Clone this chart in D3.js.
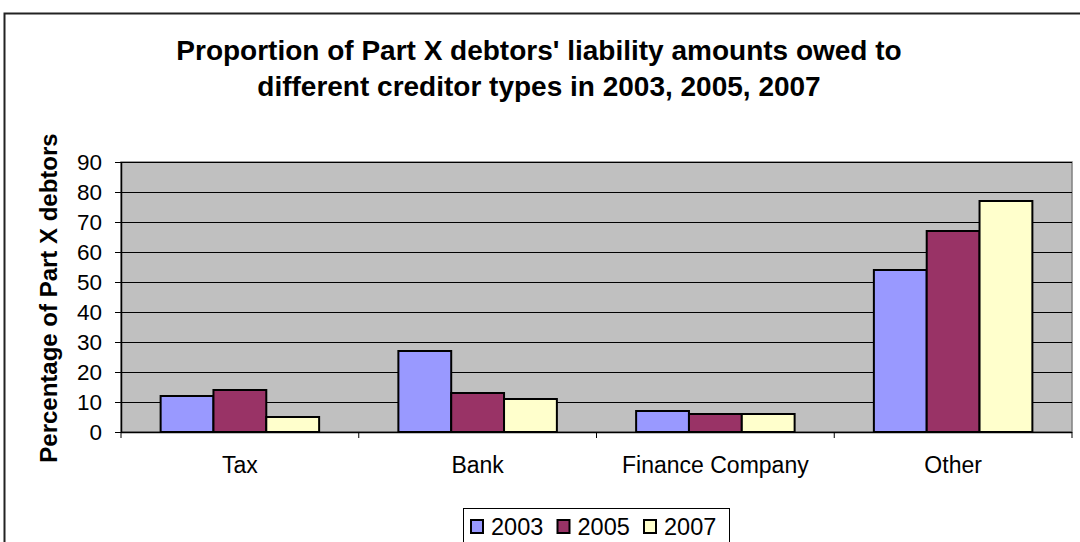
<!DOCTYPE html>
<html><head><meta charset="utf-8">
<script src="https://cdn.jsdelivr.net/npm/d3@7/dist/d3.min.js"></script>
<style>body{margin:0;background:#fff}svg{display:block}text{font-family:"Liberation Sans",Arial,sans-serif}</style>
</head><body><svg id="c" width="1080" height="542"></svg>
<script>
const categories = ["Tax", "Bank", "Finance Company", "Other"];
const years = ["2003", "2005", "2007"];
const v2003 = [12, 27, 7, 54];
const v2005 = [14, 13, 6, 67];
const v2007 = [5, 11, 6, 77];
const yTicks = [0, 10, 20, 30, 40, 50, 60, 70, 80, 90];
const colors = ["#9999FF", "#993366", "#FFFFCC"];
const titleLines = ["Proportion of Part X debtors' liability amounts owed to", "different creditor types in 2003, 2005, 2007"];
const yLabel = "Percentage of Part X debtors";

const series = [v2003, v2005, v2007];
const svg = d3.select("#c");
const L = 121, R = 1072, T = 162, B = 432;

svg.append("rect").attr("x", 4.5).attr("y", 13.5).attr("width", 1090).attr("height", 560)
  .attr("fill", "#fff").attr("stroke", "#222").attr("stroke-width", 2);

const x0 = d3.scaleBand().domain(categories).range([L, R]).padding(0);
const x1 = d3.scaleBand().domain(years).range([0, x0.bandwidth()]).paddingInner(0).paddingOuter(0.75);
const y = d3.scaleLinear().domain([0, 90]).range([B, T]);

svg.append("rect").attr("x", L).attr("y", T).attr("width", R - L).attr("height", B - T)
  .attr("fill", "#C0C0C0").attr("stroke", "#808080").attr("stroke-width", 1.5);

svg.append("g").selectAll("line").data(yTicks.filter(d => d > 0)).join("line")
  .attr("x1", L).attr("x2", R).attr("y1", d => Math.round(y(d)) + 0.5).attr("y2", d => Math.round(y(d)) + 0.5)
  .attr("stroke", "#000").attr("stroke-width", 1);

// bars
const g = svg.append("g");
categories.forEach((c, ci) => {
  years.forEach((yr, si) => {
    const val = series[si][ci];
    g.append("rect")
      .attr("x", x0(c) + x1(yr)).attr("y", y(val))
      .attr("width", x1.bandwidth()).attr("height", y(0) - y(val))
      .attr("fill", colors[si]).attr("stroke", "#000").attr("stroke-width", 2);
  });
});

// y axis
const yAxis = d3.axisLeft(y).tickValues(yTicks).tickSize(6).tickPadding(13).tickSizeOuter(0);
const ya = svg.append("g").attr("transform", `translate(${L},0)`).call(yAxis);
ya.select(".domain").attr("stroke", "#000").attr("stroke-width", 1.5);
ya.selectAll(".tick line").attr("stroke", "#000");
ya.selectAll("text").attr("font-size", 22.5).attr("fill", "#000").style("font-family", "Liberation Sans, Arial, sans-serif");

// x axis
const xa = svg.append("g").attr("transform", `translate(0,${B})`);
xa.append("line").attr("x1", L).attr("x2", R).attr("y1", 0.5).attr("y2", 0.5).attr("stroke", "#000").attr("stroke-width", 1.5);
const bounds = categories.map(c => x0(c)).concat([R]);
xa.selectAll(".ct").data(bounds).join("line").attr("class", "ct")
  .attr("x1", d => d).attr("x2", d => d).attr("y1", 0).attr("y2", 6).attr("stroke", "#000");
xa.selectAll(".cl").data(categories).join("text").attr("class", "cl")
  .attr("x", d => x0(d) + x0.bandwidth() / 2).attr("y", 41)
  .attr("text-anchor", "middle").attr("font-size", 23).text(d => d);

// title
svg.append("g").selectAll("text").data(titleLines).join("text")
  .attr("x", 539).attr("y", (d, i) => 60 + i * 36)
  .attr("text-anchor", "middle").attr("font-weight", "bold").attr("font-size", 28).text(d => d);

// y label
svg.append("text").attr("transform", `translate(57,${298}) rotate(-90)`)
  .attr("text-anchor", "middle").attr("font-weight", "bold").attr("font-size", 24).text(yLabel);

// legend
const lg = svg.append("g");
lg.append("rect").attr("x", 463.5).attr("y", 508.5).attr("width", 266).attr("height", 50)
  .attr("fill", "#fff").attr("stroke", "#000").attr("stroke-width", 1);
years.forEach((yr, i) => {
  const gx = 471 + i * 86.5;
  lg.append("rect").attr("x", gx).attr("y", 520).attr("width", 12).attr("height", 13)
    .attr("fill", colors[i]).attr("stroke", "#000").attr("stroke-width", 2);
  lg.append("text").attr("x", gx + 20).attr("y", 535).attr("font-size", 23.5).text(yr);
});
</script></body></html>
